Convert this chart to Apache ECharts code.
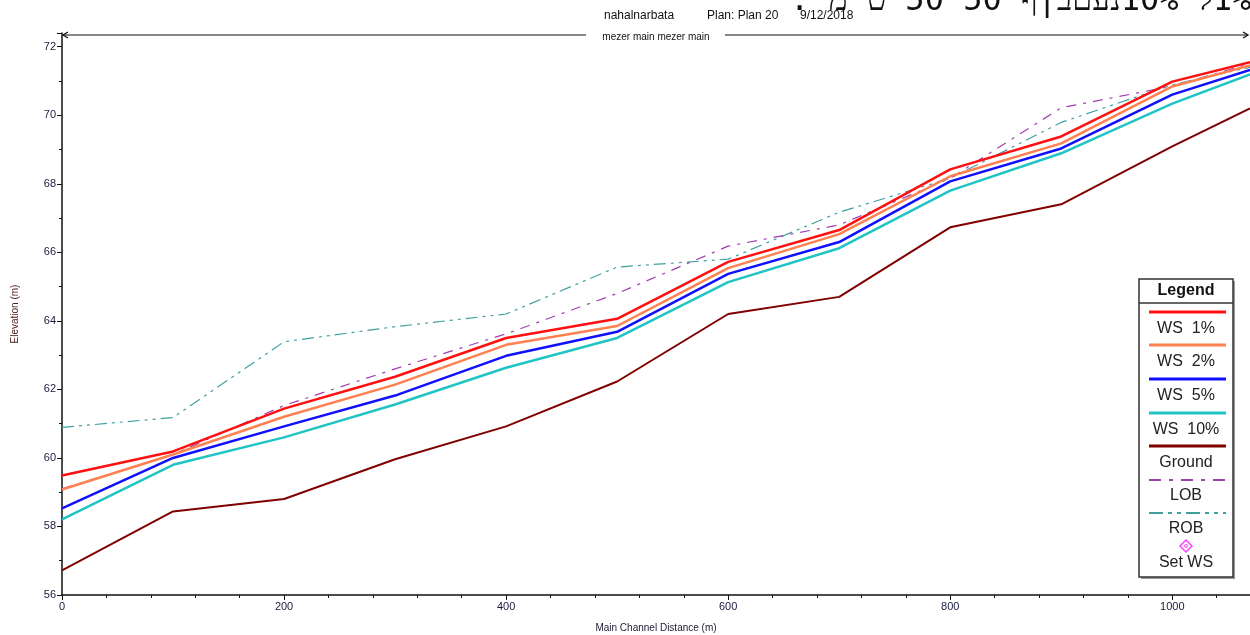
<!DOCTYPE html>
<html><head><meta charset="utf-8">
<script src="https://cdn.jsdelivr.net/npm/echarts@6/dist/echarts.min.js"></script>
<style>html,body{margin:0;padding:0;background:#fff}#c{width:1250px;height:635px}</style>
</head><body><div id="c"></div>
<script>
// ---- data ----
const stations = [0, 100, 200, 300, 400, 500, 600, 700, 800, 900, 1000, 1070];
const ws1    = [59.49, 60.19, 61.44, 62.37, 63.50, 64.06, 65.72, 66.65, 68.42, 69.38, 70.98, 71.55];
const ws2    = [59.08, 60.10, 61.20, 62.14, 63.30, 63.85, 65.54, 66.53, 68.22, 69.18, 70.84, 71.45];
const ws5    = [58.53, 60.00, 60.92, 61.82, 62.98, 63.68, 65.37, 66.30, 68.07, 69.03, 70.60, 71.32];
const ws10   = [58.21, 59.80, 60.60, 61.56, 62.63, 63.50, 65.13, 66.12, 67.80, 68.89, 70.34, 71.19];
const ground = [56.72, 58.44, 58.80, 59.96, 60.92, 62.23, 64.20, 64.70, 66.73, 67.40, 69.09, 70.20];
const lob    = [59.10, 60.10, 61.53, 62.60, 63.62, 64.80, 66.18, 66.80, 68.16, 70.22, 70.85, 71.50];
const rob    = [60.89, 61.18, 63.39, 63.83, 64.20, 65.57, 65.80, 67.17, 68.16, 69.79, 70.89, 71.40];
const seriesNames = ['WS  1%', 'WS  2%', 'WS  5%', 'WS  10%', 'Ground', 'LOB', 'ROB', 'Set WS'];
const titleParts = ['nahalnarbata', 'Plan: Plan 20', '9/12/2018'];
const reachLabel = 'mezer main mezer main';
const topNote = '\u202D. \u05DE \u05D8 50 50 \u05E3|\u05D1\u05DD\u05E2\u05E010% \u05DC1%\u202C';

// ---- styles ----
const colors = {ws1:'#ff1010', ws2:'#ff8050', ws5:'#1010ff', ws10:'#20c4c4', ground:'#800000', lob:'#a040b0', rob:'#40a0a0', setws:'#ff40ff'};
const FONT = 'Liberation Sans, Arial, sans-serif';
const pairs = arr => stations.map((s, i) => [s, arr[i]]);

function lineSeries(name, arr, color, width, dash, z) {
  return {
    name, type: 'line', data: pairs(arr), symbol: 'none', z: z,
    lineStyle: { color, width, type: dash || 'solid' }, silent: true, animation: false
  };
}

const chart = echarts.init(document.getElementById('c'), null, {renderer: 'canvas'});

// legend graphic
const LX1 = 1149, LX2 = 1226, LCX = 1186;
const legendItems = [
  {c: colors.ws1, t: seriesNames[0], ly: 312, ty: 329, dash: null, w: 3},
  {c: colors.ws2, t: seriesNames[1], ly: 345, ty: 362, dash: null, w: 3},
  {c: colors.ws5, t: seriesNames[2], ly: 379, ty: 396, dash: null, w: 3},
  {c: colors.ws10, t: seriesNames[3], ly: 413, ty: 430, dash: null, w: 3},
  {c: colors.ground, t: seriesNames[4], ly: 446, ty: 463, dash: null, w: 3},
  {c: colors.lob, t: seriesNames[5], ly: 480, ty: 496, dash: [12, 8, 4, 8], w: 2},
  {c: colors.rob, t: seriesNames[6], ly: 513, ty: 529, dash: [14, 5, 4, 5, 4, 5], w: 2}
];
const graphics = [];
// shadow + box
graphics.push({type:'rect', shape:{x:1141, y:281, width:94, height:298}, style:{fill:'#9a9a9a'}, z:10});
graphics.push({type:'rect', shape:{x:1139, y:279, width:94, height:298}, style:{fill:'#fff', stroke:'#333', lineWidth:1.5}, z:11});
graphics.push({type:'line', shape:{x1:1139, y1:303, x2:1233, y2:303}, style:{stroke:'#333', lineWidth:1.5}, z:12});
graphics.push({type:'text', x:LCX, y:291, style:{text:'Legend', font:'bold 16px ' + FONT, fill:'#111', align:'center', verticalAlign:'middle'}, z:12});
legendItems.forEach(it => {
  graphics.push({type:'line', shape:{x1:LX1, y1:it.ly, x2:LX2, y2:it.ly}, style:{stroke:it.c, lineWidth:it.w, lineDash:it.dash}, z:12});
  graphics.push({type:'text', x:LCX, y:it.ty, style:{text:it.t, font:'16px ' + FONT, fill:'#222', align:'center', verticalAlign:'middle'}, z:12});
});
graphics.push({type:'polygon', shape:{points:[[LCX,540],[LCX+6,546],[LCX,552],[LCX-6,546]]}, style:{fill:'none', stroke:colors.setws, lineWidth:1.5}, z:12});
graphics.push({type:'circle', shape:{cx:LCX, cy:546, r:1.5}, style:{fill:'none', stroke:colors.setws, lineWidth:1}, z:12});
graphics.push({type:'text', x:LCX, y:563, style:{text:seriesNames[7], font:'16px ' + FONT, fill:'#222', align:'center', verticalAlign:'middle'}, z:12});

// title
const titleX = [604, 707, 800];
titleParts.forEach((t, i) => graphics.push({type:'text', x:titleX[i], y:16, style:{text:t, font:'12px ' + FONT, fill:'#111', verticalAlign:'middle'}, z:5}));
// top note (cut off at the top edge of the picture)
graphics.push({type:'text', x:790, y:18, style:{text:topNote, font:'32px DejaVu Sans Mono, monospace', fill:'#111', verticalAlign:'bottom'}, z:5});
// reach arrow line
graphics.push({type:'line', shape:{x1:63, y1:35, x2:586, y2:35}, style:{stroke:'#111', lineWidth:1.2}, z:5});
graphics.push({type:'line', shape:{x1:725, y1:35, x2:1248, y2:35}, style:{stroke:'#111', lineWidth:1.2}, z:5});
graphics.push({type:'polyline', shape:{points:[[68,32],[63,35],[68,38]]}, style:{stroke:'#111', lineWidth:1.3, fill:'none'}, z:5});
graphics.push({type:'polyline', shape:{points:[[1243,32],[1248,35],[1243,38]]}, style:{stroke:'#111', lineWidth:1.3, fill:'none'}, z:5});
graphics.push({type:'text', x:656, y:37, style:{text:reachLabel, font:'10px ' + FONT, fill:'#111', align:'center', verticalAlign:'middle'}, z:5});

const option = {
  backgroundColor: '#fff',
  animation: false,
  grid: {left: 62, right: 0, top: 33, bottom: 40, containLabel: false, outerBoundsMode: 'none'},
  xAxis: {
    type: 'value', min: 0, max: 1070, interval: 200,
    name: 'Main Channel Distance (m)', nameLocation: 'middle', nameGap: 28,
    nameTextStyle: {fontFamily: FONT, fontSize: 10, color: '#1a1a30'},
    axisLine: {show: true, lineStyle: {color: '#111', width: 1.5}},
    axisTick: {show: true, inside: false, length: 5, lineStyle: {color: '#111'}},
    minorTick: {show: true, splitNumber: 5, length: 3, lineStyle: {color: '#111'}},
    splitLine: {show: false},
    axisLabel: {fontFamily: FONT, fontSize: 11, color: '#1a1a40', margin: 6, showMaxLabel: false, formatter: v => String(v)}
  },
  yAxis: {
    type: 'value', min: 56, max: 72.4, interval: 2,
    name: 'Elevation (m)', nameLocation: 'middle', nameGap: 42, nameRotate: 90,
    nameTextStyle: {fontFamily: FONT, fontSize: 10, color: '#4a1a1a'},
    axisLine: {show: true, lineStyle: {color: '#111', width: 1.5}},
    axisTick: {show: true, inside: false, length: 5, lineStyle: {color: '#111'}},
    minorTick: {show: true, splitNumber: 2, length: 3, lineStyle: {color: '#111'}},
    splitLine: {show: false},
    axisLabel: {fontFamily: FONT, fontSize: 11, color: '#1a1a40', margin: 6, showMaxLabel: false}
  },
  series: [
    lineSeries(seriesNames[4], ground, colors.ground, 2, null, 2),
    lineSeries(seriesNames[6], rob, colors.rob, 1.2, [12, 5, 3, 5, 3, 5], 3),
    lineSeries(seriesNames[5], lob, colors.lob, 1.2, [10, 7, 3, 7], 3),
    lineSeries(seriesNames[3], ws10, colors.ws10, 2.5, null, 4),
    lineSeries(seriesNames[2], ws5, colors.ws5, 2.5, null, 5),
    lineSeries(seriesNames[1], ws2, colors.ws2, 2.5, null, 6),
    lineSeries(seriesNames[0], ws1, colors.ws1, 2.5, null, 7)
  ],
  graphic: graphics
};
chart.setOption(option);
</script></body></html>
